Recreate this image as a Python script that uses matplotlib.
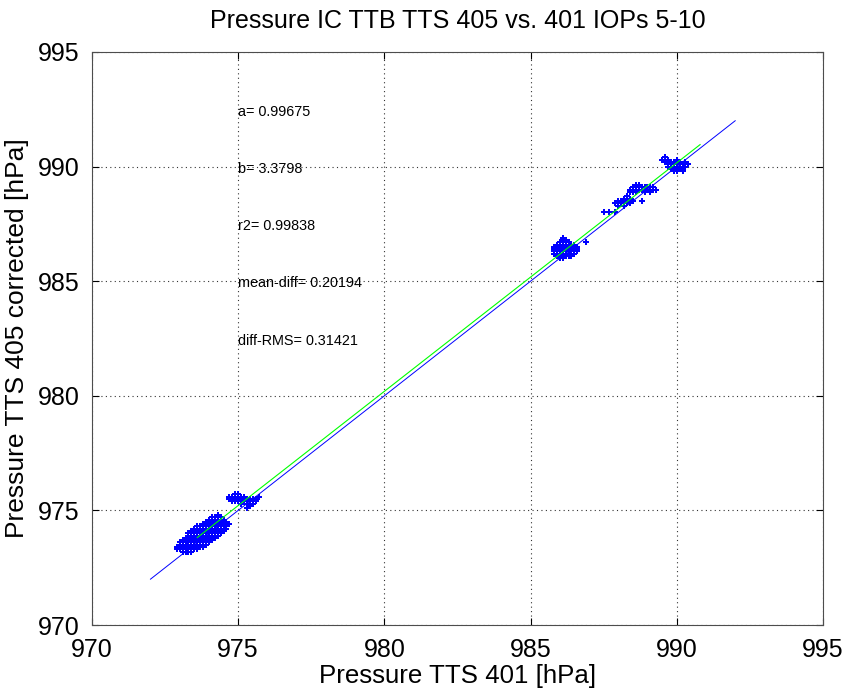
import numpy as np
import matplotlib
matplotlib.use("Agg")
import matplotlib.pyplot as plt

plt.rcParams["font.family"] = ["Liberation Sans", "DejaVu Sans"]

# ── Data (hPa, 0.1 resolution) ──────────────────────────────────────────────
# each cluster: column x values and the y values seen in that column
c973_x = [972.9, 973.0, 973.1, 973.2, 973.3, 973.4, 973.5, 973.6, 973.7, 973.8,
          973.9, 974.0, 974.1, 974.2, 974.3, 974.4, 974.5, 974.6, 974.7]
c973_y = [[973.3, 973.4],
          [973.3, 973.4, 973.5, 973.6],
          [973.2, 973.3, 973.4, 973.5, 973.6, 973.7],
          [973.2, 973.3, 973.4, 973.5, 973.6, 973.7, 973.8],
          [973.2, 973.3, 973.4, 973.5, 973.6, 973.7, 973.8, 973.9, 974.0],
          [973.2, 973.3, 973.4, 973.5, 973.6, 973.7, 973.8, 973.9, 974.0, 974.1],
          [973.3, 973.4, 973.5, 973.6, 973.7, 973.8, 973.9, 974.0, 974.1, 974.2],
          [973.3, 973.4, 973.5, 973.6, 973.7, 973.8, 973.9, 974.0, 974.1, 974.2, 974.3],
          [973.4, 973.5, 973.6, 973.7, 973.8, 973.9, 974.0, 974.1, 974.2, 974.3],
          [973.4, 973.5, 973.6, 973.7, 973.8, 973.9, 974.0, 974.1, 974.2, 974.3, 974.4],
          [973.5, 973.6, 973.7, 973.8, 973.9, 974.0, 974.1, 974.2, 974.3, 974.4, 974.5],
          [973.6, 973.7, 973.8, 973.9, 974.0, 974.1, 974.2, 974.3, 974.4, 974.5, 974.6],
          [973.7, 973.8, 973.9, 974.0, 974.1, 974.2, 974.3, 974.4, 974.5, 974.6, 974.7],
          [973.8, 973.9, 974.0, 974.1, 974.2, 974.3, 974.4, 974.5, 974.6, 974.7],
          [973.9, 974.0, 974.1, 974.2, 974.3, 974.4, 974.5, 974.6, 974.7, 974.8],
          [974.0, 974.1, 974.2, 974.3, 974.4, 974.5, 974.6, 974.7],
          [974.1, 974.2, 974.3, 974.4, 974.5, 974.6],
          [974.2, 974.3, 974.4, 974.5],
          [974.4]]

c975_x = [974.7, 974.8, 974.9, 975.0, 975.1, 975.2, 975.3, 975.4, 975.5, 975.6, 975.7]
c975_y = [[975.5, 975.6],
          [975.4, 975.5, 975.6],
          [975.4, 975.5, 975.6, 975.7],
          [975.4, 975.5, 975.6, 975.7],
          [975.3, 975.5, 975.6],
          [975.4, 975.5, 975.6],
          [975.1, 975.3, 975.4, 975.5],
          [975.2, 975.3, 975.4, 975.5],
          [975.3, 975.4, 975.5],
          [975.4, 975.5],
          [975.6]]

c986_x = [985.8, 985.9, 986.0, 986.1, 986.2, 986.3, 986.4, 986.5, 986.6, 986.9]
c986_y = [[986.2, 986.3, 986.4, 986.5],
          [986.1, 986.2, 986.3, 986.4, 986.5, 986.6],
          [986.0, 986.1, 986.2, 986.3, 986.4, 986.5, 986.6, 986.7],
          [986.0, 986.1, 986.2, 986.3, 986.4, 986.5, 986.6, 986.7, 986.8, 986.9],
          [986.1, 986.2, 986.3, 986.4, 986.5, 986.6, 986.7, 986.8],
          [986.1, 986.2, 986.3, 986.4, 986.5, 986.6, 986.7],
          [986.1, 986.2, 986.3, 986.4, 986.5, 986.6],
          [986.2, 986.3, 986.4, 986.5, 986.6],
          [986.3, 986.4, 986.5],
          [986.7]]

c988_x = [987.5, 987.7, 987.9, 988.0, 988.1, 988.2, 988.3, 988.4, 988.5, 988.8]
c988_y = [[988.0],
          [988.0],
          [988.0, 988.4],
          [988.3, 988.4, 988.5],
          [988.4, 988.5],
          [988.3, 988.4, 988.5, 988.6],
          [988.4, 988.5, 988.6, 988.7],
          [988.4, 988.5, 988.6],
          [988.5],
          [988.5]]

c989_x = [988.4, 988.5, 988.6, 988.7, 988.8, 988.9, 989.0, 989.1, 989.2, 989.3]
c989_y = [[988.9, 989.0],
          [988.9, 989.0, 989.1],
          [988.9, 989.0, 989.1, 989.2],
          [989.0, 989.1, 989.2],
          [989.0, 989.1],
          [988.9, 989.0, 989.1],
          [989.0, 989.1],
          [988.9, 989.0, 989.1],
          [989.0, 989.1],
          [989.0]]

c990_x = [989.5, 989.6, 989.7, 989.8, 989.9, 990.0, 990.1, 990.2, 990.3, 990.4]
c990_y = [[990.3],
          [990.2, 990.4],
          [990.0, 990.1, 990.3],
          [989.9, 990.0, 990.1, 990.2],
          [989.8, 989.9, 990.0, 990.2],
          [989.8, 989.9, 990.0, 990.1, 990.2, 990.3],
          [989.9, 990.0, 990.1, 990.2],
          [989.8, 989.9, 990.0, 990.1],
          [990.0, 990.2],
          [990.1]]

clusters = [(c973_x, c973_y), (c975_x, c975_y), (c986_x, c986_y),
            (c988_x, c988_y), (c989_x, c989_y), (c990_x, c990_y)]

# regression results printed on the plot
fit_a, fit_b = 0.99675, 3.3798
stats = [("a", "0.99675"), ("b", "3.3798"), ("r2", "0.99838"),
         ("mean-diff", "0.20194"), ("diff-RMS", "0.31421")]
one_to_one = [972, 992]
fit_range = [973.6, 990.8]
ticks = [970, 975, 980, 985, 990, 995]

# ── Plot ─────────────────────────────────────────────────────────────────────
fig = plt.figure(figsize=(8.44, 6.95), dpi=100)
ax = fig.add_axes([0.109, 0.1007, 0.866, 0.8245])

for cx, cy in clusters:
    xs = np.concatenate([[x] * len(ys) for x, ys in zip(cx, cy)])
    ys = np.concatenate(cy)
    ax.plot(xs, ys, "P", color="#0000ff", ms=4.2, mew=0, zorder=3)

ax.plot(one_to_one, one_to_one, color="#0000ff", lw=0.7, zorder=4)
fx = np.array(fit_range)
ax.plot(fx, fit_a * fx + fit_b, color="#00ff00", lw=0.8, zorder=4)

for i, (name, val) in enumerate(stats):
    ax.text(975.0, 992.4 - 2.5 * i, f"{name}= {val}", fontsize=10.4,
            va="center", ha="left")

ax.set_xlim(970, 995)
ax.set_ylim(970, 995)
ax.set_xticks(ticks)
ax.set_yticks(ticks)
ax.grid(True, ls=(0, (1, 3)), color="0.2", lw=0.8)
ax.tick_params(direction="in", length=5, top=True, right=True,
               labelsize=18, pad=9)
for s in ax.spines.values():
    s.set_color("0.3")

ax.set_title("Pressure IC TTB TTS 405 vs. 401 IOPs 5-10", fontsize=18, pad=17)
ax.set_xlabel("Pressure TTS 401 [hPa]", fontsize=18.6, labelpad=2)
ax.set_ylabel("Pressure TTS 405 corrected [hPa]", fontsize=19, labelpad=6)

fig.savefig("out.png", dpi=100)
